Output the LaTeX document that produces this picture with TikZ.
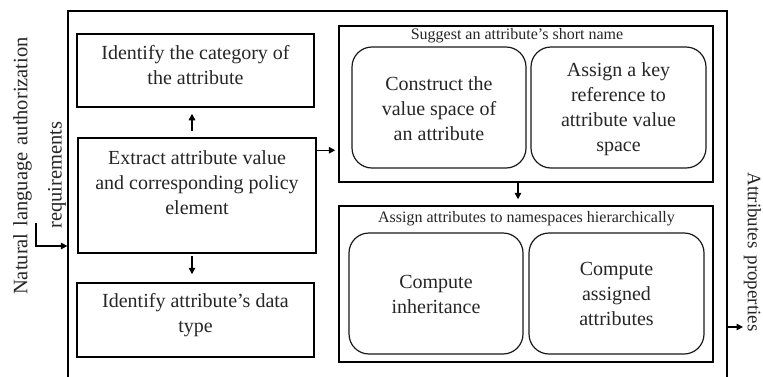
\documentclass[tikz,border=0pt]{standalone}
\usepackage{fontspec}
\setmainfont{Liberation Serif}
\usetikzlibrary{arrows.meta,calc}
\begin{document}
\begin{tikzpicture}[x=1pt,y=-1pt,
  sqbox/.style={draw=black, line width=1.5pt, inner sep=0pt},
  rbox/.style={draw=black!90, line width=1.2pt, rounded corners=20pt, inner sep=0pt},
  txt/.style={font=\fontsize{20}{25}\selectfont, align=center, text=black!85, inner sep=0pt},
  ttl/.style={font=\fontsize{16}{19}\selectfont, text=black!85, inner sep=0pt},
  side/.style={font=\fontsize{20.5}{25}\selectfont, text=black!85, inner sep=0pt},
  arr/.style={-{Triangle[length=6.5pt,width=6.5pt]}, line width=1.4pt}]
\useasboundingbox (0,0) rectangle (763,376);
\fill[white] (0,0) rectangle (763,376);
\begin{scope}
\clip (0,0) rectangle (763,376);
\node[draw=black, line width=1.3pt, minimum width=659pt, minimum height=390pt, inner sep=0pt] (outer) at (397.5,206) {};
\end{scope}
% left column
\node[sqbox, minimum width=237pt, minimum height=73pt] (cat) at (195.5,70.5) {};
\node[txt] (catt) at (195.5,65.5) {Identify the category of\\the attribute};
\node[sqbox, minimum width=238pt, minimum height=115pt] (ext) at (197,195.5) {};
\node[txt] (extt) at (197,182.5) {Extract attribute value\\and corresponding policy\\element};
\node[sqbox, minimum width=237pt, minimum height=74pt] (dty) at (195.5,320) {};
\node[txt] (dtyt) at (195.5,315) {Identify attribute's data\\type};
% suggest group
\node[sqbox, minimum width=374pt, minimum height=156pt] (sug) at (526,104) {};
\node[ttl] (sugt) at (517,36) {Suggest an attribute's short name};
\node[rbox, minimum width=174pt, minimum height=121pt] (con) at (439,107.5) {};
\node[txt] (cont) at (439,108.5) {Construct the\\value space of\\an attribute};
\node[rbox, minimum width=175pt, minimum height=121pt] (key) at (618.5,107.5) {};
\node[txt] (keyt) at (618.5,109) {Assign a key\\reference to\\attribute value\\space};
% namespace group
\node[sqbox, minimum width=374pt, minimum height=156pt] (ns) at (526,284) {};
\node[ttl] (nst) at (526.5,219) {Assign attributes to namespaces hierarchically};
\node[rbox, minimum width=174pt, minimum height=121pt] (inh) at (436,293.5) {};
\node[txt] (inht) at (436,294.5) {Compute\\inheritance};
\node[rbox, minimum width=175pt, minimum height=121pt] (asg) at (616.5,293.5) {};
\node[txt] (asgt) at (616.5,294) {Compute\\assigned\\attributes};
% side labels
\node[side, rotate=90] (nl) at (22.5,166) {Natural\hspace{7pt}language\hspace{7pt}authorization};
\node[side, rotate=90] (req) at (57,175) {requirements};
\node[side, font=\fontsize{19}{23}\selectfont, rotate=-90] (ap) at (752.5,252) {Attributes\hspace{7pt}properties};
% connectors
\coordinate (r1) at (36,223);
\coordinate (r2) at (36,246);
\draw[arr] (r1) -- (r2) -- (outer.west |- r2);
\coordinate (pa) at (743,327);
\draw[arr] (outer.east |- pa) -- (pa);
\draw[arr, shorten <=6pt, shorten >=6pt] ([xshift=-5pt]ext.north) -- ([xshift=-5pt]ext.north |- cat.south);
\draw[arr, shorten <=2pt, shorten >=8pt] ([xshift=-5pt]ext.south) -- ([xshift=-5pt]ext.south |- dty.north);
\draw[arr, shorten >=3pt] ([yshift=-13pt]ext.north east) -- ([yshift=-13pt]ext.north east -| sug.west);
\draw[arr, shorten >=6pt] ([xshift=-8pt]sug.south) -- ([xshift=-8pt]ns.north);
\end{tikzpicture}
\end{document}
